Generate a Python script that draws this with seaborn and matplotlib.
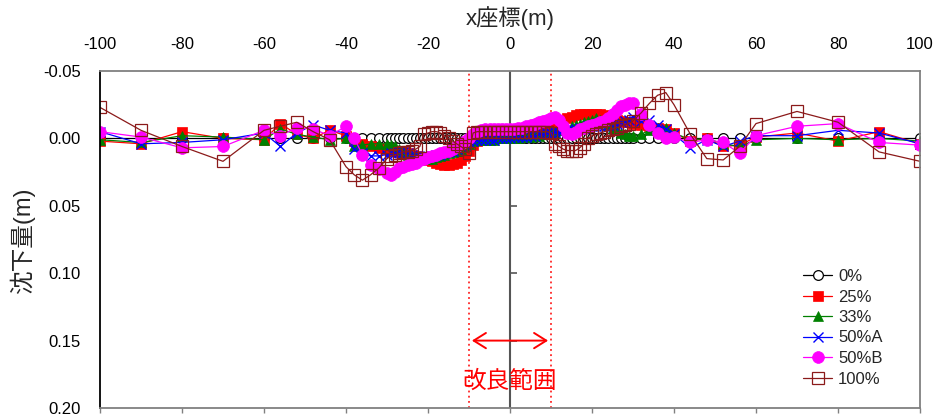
import matplotlib
matplotlib.use("Agg")
import matplotlib.pyplot as plt
import seaborn as sns
import numpy as np

# ---------------- data ----------------
x_pos = [-100, -90, -80, -70, -60, -56, -52, -48, -44, -40, -38, -36, -34, -32,
         -30, -29, -28, -27, -26, -25, -24, -23, -22, -21, -20, -19, -18, -17, -16,
         -15, -14, -13, -12, -11, -10, -9, -8, -7, -6, -5, -4, -3, -2, -1,
         0, 1, 2, 3, 4, 5, 6, 7, 8, 9, 10, 11, 12, 13, 14, 15, 16, 17, 18, 19, 20,
         21, 22, 23, 24, 25, 26, 27, 28, 29, 30,
         32, 34, 36, 38, 40, 44, 48, 52, 56, 60, 70, 80, 90, 100]

s_0 = [0.0, 0.0, 0.0, 0.0, 0.0, 0.0, 0.0, 0.0, 0.0, 0.0, 0.0, 0.0, 0.0, 0.0,
       0.0, 0.0, 0.0, 0.0, 0.0, 0.0, 0.0, 0.0, 0.0, 0.0, 0.0, 0.0, 0.0, 0.0, 0.0,
       0.0, 0.0, 0.0, 0.0, 0.0, 0.0, 0.0, 0.0, 0.0, 0.0, 0.0, 0.0, 0.0, 0.0, 0.0,
       0.0, 0.0, 0.0, 0.0, 0.0, 0.0, 0.0, 0.0, 0.0, 0.0, 0.0, 0.0, 0.0, 0.0, 0.0,
       0.0, 0.0, 0.0, 0.0, 0.0, 0.0, 0.0, 0.0, 0.0, 0.0, 0.0, 0.0, 0.0, 0.0, 0.0,
       0.0, 0.0, 0.0, 0.0, 0.0, 0.0, 0.0, 0.0, 0.0, 0.0, 0.0, 0.0, 0.0, 0.0, 0.0]

s_25 = [0.002, 0.004, -0.005, 0.000, 0.001, -0.011, -0.003, 0.000, -0.006, -0.002, 0.002, 0.004, 0.006, 0.007,
        0.008, 0.008, 0.009, 0.010, 0.010, 0.011, 0.012, 0.013, 0.014, 0.015, 0.016, 0.017, 0.018, 0.019, 0.020,
        0.020, 0.019, 0.018, 0.016, 0.013, 0.009, 0.005, 0.002, 0.000, -0.001, -0.001, -0.001, -0.002, -0.002, -0.002,
        -0.002, -0.002, -0.002, -0.003, -0.003, -0.004, -0.004, -0.005, -0.006, -0.007, -0.008, -0.010, -0.012, -0.014,
        -0.015, -0.016, -0.017, -0.018, -0.018, -0.018, -0.018, -0.018, -0.018, -0.017, -0.016, -0.015, -0.014, -0.013,
        -0.012, -0.012, -0.011,
        -0.010, -0.009, -0.008, -0.007, -0.004, 0.002, 0.000, 0.006, 0.005, -0.001, -0.004, 0.002, -0.005, 0.004]

s_33 = [0.001, 0.003, -0.002, -0.001, 0.001, -0.007, -0.003, -0.001, 0.001, 0.000, 0.006, 0.005, 0.004, 0.004,
        0.004, 0.005, 0.006, 0.008, 0.010, 0.012, 0.013, 0.014, 0.015, 0.015, 0.015, 0.015, 0.014, 0.013, 0.012,
        0.011, 0.010, 0.009, 0.008, 0.006, 0.004, 0.002, 0.001, 0.001, 0.001, 0.001, 0.001, 0.000, 0.000, 0.000,
        0.000, 0.000, 0.000, -0.001, -0.001, -0.001, -0.002, -0.002, -0.003, -0.003, -0.004, -0.005, -0.006, -0.007,
        -0.008, -0.009, -0.010, -0.011, -0.012, -0.013, -0.014, -0.015, -0.014, -0.012, -0.010, -0.008, -0.006, -0.004,
        -0.003, -0.002, -0.002,
        -0.003, -0.006, -0.008, -0.008, -0.004, 0.001, 0.000, 0.004, 0.006, 0.001, 0.000, 0.001, 0.000, 0.002]

s_50A = [-0.005, 0.004, 0.003, 0.001, -0.004, 0.006, -0.004, -0.010, -0.006, -0.004, 0.008, 0.011, 0.013, 0.013,
         0.012, 0.011, 0.011, 0.010, 0.010, 0.011, 0.012, 0.013, 0.014, 0.014, 0.013, 0.013, 0.012, 0.012, 0.011,
         0.010, 0.009, 0.008, 0.006, 0.005, 0.003, 0.002, 0.001, 0.001, 0.001, 0.001, 0.001, 0.000, 0.000, 0.000,
         0.000, -0.001, -0.001, -0.001, -0.001, -0.002, -0.002, -0.003, -0.003, -0.004, -0.004, -0.005, -0.005, -0.006,
         -0.006, -0.007, -0.007, -0.008, -0.008, -0.009, -0.009, -0.009, -0.009, -0.009, -0.010, -0.010, -0.011, -0.012,
         -0.013, -0.014, -0.016,
         -0.013, -0.014, -0.010, -0.007, -0.003, 0.007, 0.001, 0.006, 0.002, -0.002, -0.002, -0.006, -0.004, 0.004]

s_50B = [-0.005, -0.001, 0.007, 0.006, -0.006, -0.002, -0.008, -0.007, -0.002, -0.009, 0.000, 0.012, 0.020, 0.023,
         0.026, 0.027, 0.025, 0.022, 0.021, 0.020, 0.019, 0.018, 0.016, 0.015, 0.014, 0.013, 0.012, 0.011, 0.010,
         0.009, 0.008, 0.006, 0.004, 0.002, 0.000, -0.003, -0.005, -0.006, -0.007, -0.007, -0.007, -0.007, -0.007, -0.007,
         -0.007, -0.007, -0.008, -0.008, -0.009, -0.010, -0.011, -0.012, -0.013, -0.014, -0.015, -0.016, -0.014, -0.009,
         -0.004, -0.003, -0.005, -0.007, -0.008, -0.009, -0.010, -0.011, -0.012, -0.013, -0.015, -0.018, -0.021, -0.024,
         -0.025, -0.026, -0.026,
         -0.018, -0.010, -0.004, 0.000, -0.001, 0.003, 0.001, 0.003, 0.011, -0.002, -0.009, -0.011, 0.003, 0.005]

s_100 = [-0.023, -0.006, 0.006, 0.017, -0.006, -0.009, -0.012, -0.005, 0.001, 0.021, 0.027, 0.031, 0.027, 0.022,
         0.015, 0.013, 0.012, 0.011, 0.010, 0.010, 0.009, 0.008, 0.006, -0.003, -0.004, -0.005, -0.005, -0.004, -0.002,
         0.000, 0.002, 0.004, 0.006, 0.008, 0.011, -0.004, -0.005, -0.005, -0.005, -0.005, -0.005, -0.005, -0.005, -0.005,
         -0.005, -0.005, -0.005, -0.005, -0.005, -0.005, -0.005, -0.005, -0.005, -0.005, -0.004, 0.004, 0.006, 0.008,
         0.009, 0.009, 0.009, 0.007, 0.004, 0.000, -0.002, -0.003, -0.004, -0.005, -0.006, -0.007, -0.008, -0.009,
         -0.010, -0.011, -0.013,
         -0.019, -0.026, -0.032, -0.034, -0.025, -0.003, 0.015, 0.016, 0.006, -0.011, -0.020, -0.012, 0.010, 0.017]

series_names = ["0%", "25%", "33%", "50%A", "50%B", "100%"]
series_values = [s_0, s_25, s_33, s_50A, s_50B, s_100]

x_ticks = [-100, -80, -60, -40, -20, 0, 20, 40, 60, 80, 100]
y_ticks = [-0.05, 0.00, 0.05, 0.10, 0.15, 0.20]

# ---------------- style ----------------
sns.set_theme(style="white")
plt.rcParams["font.family"] = ["Liberation Sans", "Noto Sans CJK JP", "DejaVu Sans"]

styles = {
    "0%":   dict(color="black", marker="o", markerfacecolor="white", markeredgecolor="black", markersize=7, markeredgewidth=0.9),
    "25%":  dict(color="#FF0000", marker="s", markerfacecolor="#FF0000", markeredgecolor="#FF0000", markersize=7, markeredgewidth=0.5),
    "33%":  dict(color="#008000", marker="^", markerfacecolor="#008000", markeredgecolor="#008000", markersize=7.5, markeredgewidth=0.5),
    "50%A": dict(color="#0000FF", marker="x", markerfacecolor="#0000FF", markeredgecolor="#0000FF", markersize=7.5, markeredgewidth=1.0),
    "50%B": dict(color="#FF00FF", marker="o", markerfacecolor="#FF00FF", markeredgecolor="#FF00FF", markersize=8.5, markeredgewidth=0.5),
    "100%": dict(color="#8B1A1A", marker="s", markerfacecolor="none", markeredgecolor="#8B1A1A", markersize=8, markeredgewidth=0.9),
}

fig = plt.figure(figsize=(9.38, 4.19), dpi=100)
ax = fig.add_axes([100 / 938, 1 - 408 / 419, 820 / 938, 337 / 419])

for name, vals in zip(series_names, series_values):
    assert len(vals) == len(x_pos), (name, len(vals))
    sns.lineplot(x=x_pos, y=vals, ax=ax, label=name, linewidth=0.9,
                 errorbar=None, sort=False, **styles[name])

ax.set_xlim(-100, 100)
ax.set_ylim(0.20, -0.05)

# improvement range
ax.axvline(-10, color="#FF0000", linestyle=(0, (1.2, 2.2)), linewidth=1.1, zorder=1)
ax.axvline(10, color="#FF0000", linestyle=(0, (1.2, 2.2)), linewidth=1.1, zorder=1)
ax.axvline(0, color="#555555", linewidth=1.5, zorder=1)
ax.hlines([0.05, 0.10, 0.15], 0, 1.8, color="#555555", linewidth=1.2, zorder=1)
ax.annotate("", xy=(9.3, 0.15), xytext=(-9.3, 0.15),
            arrowprops=dict(arrowstyle="<->,head_length=0.4,head_width=0.25",
                            color="#FF0000", lw=1.4, shrinkA=0, shrinkB=0,
                            mutation_scale=22))
ax.text(0, 0.180, "改良範囲", color="#FF0000", fontsize=17, ha="center", va="center",
        family=["Noto Sans CJK JP", "DejaVu Sans"])

# axes
ax.set_xticks(x_ticks)
ax.set_yticks(y_ticks)
ax.set_xticklabels([str(v) for v in x_ticks])
ax.set_yticklabels([f"{v:.2f}" for v in y_ticks])
ax.tick_params(axis="x", top=False, bottom=True, labeltop=True, labelbottom=False,
               direction="out", length=3.5, width=1.0, color="#808080", pad=10, labelsize=12)
ax.tick_params(axis="y", left=False, right=False, length=0, pad=14, labelsize=12)
for t in ax.get_xticklabels() + ax.get_yticklabels():
    t.set_color("black")

for side in ["top", "right", "bottom"]:
    ax.spines[side].set_color("#808080")
    ax.spines[side].set_linewidth(1.3)
ax.spines["left"].set_color("black")
ax.spines["left"].set_linewidth(1.3)

ax.xaxis.set_label_position("top")
ax.set_xlabel("x座標(m)", fontsize=16, va="center")
ax.xaxis.set_label_coords(0.5, (408 - 18) / 337)
ax.set_ylabel("沈下量(m)", fontsize=17, va="center")
ax.yaxis.set_label_coords(-0.095, 0.5)

leg = ax.legend(loc="upper left", bbox_to_anchor=(803 / 938, 1 - 269 / 419),
                bbox_transform=fig.transFigure, frameon=False, fontsize=12,
                handlelength=1.75, handletextpad=0.35, labelspacing=0.33,
                borderpad=0, borderaxespad=0)

fig.savefig("out.png", dpi=100, facecolor="white")
